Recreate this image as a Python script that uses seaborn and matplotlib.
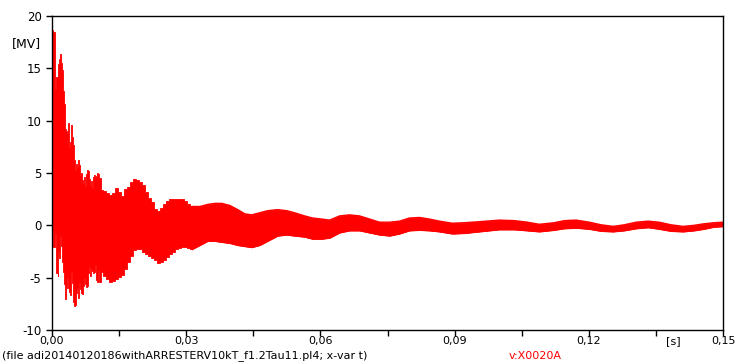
import matplotlib
matplotlib.use("Agg")
import matplotlib.pyplot as plt
from matplotlib.ticker import MultipleLocator, FuncFormatter
import numpy as np
import pandas as pd
import seaborn as sns

# ---- early transient (0 .. ~31 ms): per-sample extremes of v:X0020A [MV] ----
early_t_ms = [0.00, 0.22, 0.45, 0.67, 0.89, 1.12, 1.34, 1.56, 1.79, 2.01,
              2.23, 2.46, 2.68, 2.90, 3.13, 3.35, 3.57, 3.79, 4.02, 4.24,
              4.46, 4.69, 4.91, 5.13, 5.36, 5.58, 5.80, 6.03, 6.25, 6.47,
              6.70, 6.92, 7.14, 7.37, 7.59, 7.81, 8.04, 8.26, 8.48, 8.71,
              8.93, 9.15, 9.38, 9.60, 9.82, 10.04, 10.27, 10.49, 10.71,
              11.16, 11.83, 12.50, 13.17, 13.84, 14.51, 15.18, 15.85, 16.52,
              17.19, 17.86, 18.53, 19.20, 19.87, 20.54, 21.21, 21.88, 22.55,
              23.22, 23.89, 24.55, 25.22, 25.89, 26.56, 27.23, 27.90, 28.57,
              29.24, 29.91, 30.58, 31.25]
early_upper = [12.0, 18.7, 18.5, 15.2, 13.0, 14.2, 11.5, 15.4, 15.9, 16.4,
               15.5, 14.8, 12.8, 11.6, 9.2, 9.0, 8.8, 9.8, 7.5, 8.0,
               9.6, 8.4, 7.7, 6.2, 5.3, 5.9, 5.6, 6.2, 5.8, 4.8,
               5.0, 4.3, 4.0, 4.6, 3.8, 4.9, 5.3, 5.2, 4.4, 3.9,
               4.2, 3.6, 4.6, 4.8, 4.6, 4.7, 5.0, 4.9, 4.5,
               3.4, 3.3, 3.1, 2.9, 3.1, 3.6, 3.2, 2.8, 3.5,
               3.7, 4.1, 4.4, 4.3, 4.1, 3.9, 3.2, 2.6, 2.2,
               1.6, 1.4, 1.7, 2.0, 2.3, 2.5, 2.5, 2.5, 2.5,
               2.5, 2.3, 2.0, 1.8]
early_lower = [0.0, -0.5, -2.1, -1.5, -0.8, -4.6, -4.8, -2.5, -3.1, -1.0,
               -2.0, -3.5, -4.5, -5.6, -7.0, -6.0, -5.0, -6.0, -6.4, -6.7,
               -4.5, -5.5, -7.3, -7.7, -7.6, -6.5, -6.0, -6.9, -5.5, -6.1,
               -6.5, -6.6, -5.8, -5.0, -5.6, -5.9, -5.8, -4.6, -4.0, -4.8,
               -4.2, -4.4, -4.6, -4.5, -3.8, -5.2, -5.4, -4.3, -5.4,
               -4.5, -4.8, -5.1, -5.4, -5.3, -5.1, -4.9, -4.7, -4.2,
               -3.5, -2.9, -2.4, -2.3, -2.3, -2.5, -2.7, -2.9, -3.1,
               -3.3, -3.6, -3.5, -3.3, -3.0, -2.7, -2.5, -2.3, -2.2,
               -2.1, -2.1, -2.2, -2.3]

# ---- settled part (31 .. 150 ms): envelope of the high-frequency ripple [MV] ----
late_t_ms = [31.25, 33.04, 34.82, 36.38, 37.95, 39.73, 41.52, 43.08, 44.64,
             46.43, 48.21, 50.45, 52.46, 54.24, 56.47, 58.26, 60.27, 62.05,
             64.29, 66.52, 68.75, 70.98, 73.21, 75.45, 77.68, 79.91, 82.14,
             84.38, 86.61, 89.51, 92.19, 95.54, 100.00, 103.35, 106.25,
             108.93, 112.28, 114.51, 117.19, 120.09, 122.77, 125.45, 127.90,
             130.58, 133.26, 135.71, 138.39, 141.07, 143.53, 145.76, 148.00,
             150.00]
late_upper = [1.8, 1.8, 2.0, 2.1, 2.1, 1.9, 1.5, 1.1, 1.0,
              1.2, 1.4, 1.5, 1.4, 1.2, 0.9, 0.7, 0.6, 0.5,
              0.9, 1.0, 0.9, 0.6, 0.3, 0.3, 0.4, 0.7, 0.75,
              0.6, 0.4, 0.2, 0.25, 0.35, 0.5, 0.45, 0.3,
              0.1, 0.25, 0.45, 0.5, 0.3, 0.05, -0.1, 0.05,
              0.3, 0.4, 0.3, 0.05, -0.1, 0.0, 0.15, 0.25,
              0.3]
late_lower = [-2.3, -1.9, -1.5, -1.5, -1.6, -1.7, -1.9, -2.0, -2.1,
              -1.9, -1.5, -1.0, -0.9, -1.0, -1.1, -1.3, -1.3, -1.2,
              -0.7, -0.5, -0.5, -0.7, -0.9, -1.0, -0.8, -0.5, -0.45,
              -0.5, -0.6, -0.8, -0.75, -0.6, -0.4, -0.4, -0.5,
              -0.6, -0.45, -0.3, -0.25, -0.35, -0.55, -0.6, -0.5,
              -0.3, -0.2, -0.35, -0.55, -0.6, -0.5, -0.35, -0.15,
              -0.1]

x_major_ticks = [0.00, 0.03, 0.06, 0.09, 0.12, 0.15]
y_ticks = [-10, -5, 0, 5, 10, 15, 20]

early = pd.DataFrame({"t": np.array(early_t_ms) / 1000.0,
                      "upper": early_upper, "lower": early_lower})
late = pd.DataFrame({"t": np.array(late_t_ms) / 1000.0,
                     "upper": late_upper, "lower": late_lower})

sns.set_theme(style="white")
plt.rcParams["font.family"] = ["DejaVu Sans"]
plt.rcParams["axes.unicode_minus"] = False

RED = "#ff0000"
FS = 8
W, H = 742, 362
fig = plt.figure(figsize=(W / 100, H / 100), dpi=100)
ax = fig.add_axes([52 / W, 32 / H, 671 / W, 314 / H])

# dense oscillation rendered as a filled band between its extremes
ax.fill_between(early["t"], early["lower"], early["upper"], step="mid",
                facecolor=RED, edgecolor=RED, lw=0.6)
ax.fill_between(late["t"], late["lower"], late["upper"],
                facecolor=RED, edgecolor=RED, lw=0.6)
sns.lineplot(data=late, x="t", y="upper", ax=ax, color=RED, lw=1.0,
             estimator=None, sort=False)
sns.lineplot(data=late, x="t", y="lower", ax=ax, color=RED, lw=1.0,
             estimator=None, sort=False)

ax.set_xlim(0, 0.15)
ax.set_ylim(-10, 20)
ax.set_xlabel("")
ax.set_ylabel("")

ax.set_xticks(x_major_ticks)
ax.xaxis.set_minor_locator(MultipleLocator(0.015))
ax.xaxis.set_major_formatter(FuncFormatter(lambda v, _: f"{v:.2f}".replace(".", ",")))
ax.set_yticks(y_ticks)
ax.yaxis.set_major_formatter(FuncFormatter(lambda v, _: f"{v:.0f}"))

ax.tick_params(axis="both", which="both", direction="out", length=4.5,
               width=1, color="black", labelcolor="black", labelsize=FS + 0.5)
ax.tick_params(axis="x", which="both", length=4, pad=0.3, labelsize=FS,
               bottom=True, top=False)
ax.tick_params(axis="y", pad=3, left=True, right=False)
for s in ax.spines.values():
    s.set_color("black")
    s.set_linewidth(1.0)
    s.set_visible(True)

fig.text(12 / W, 1 - 44 / H, "[MV]", fontsize=FS + 1, color="black",
         ha="left", va="center")
fig.text(673 / W, 1 - 341 / H, "[s]", fontsize=FS, color="black",
         ha="center", va="center")
fig.text(2 / W, 1.3 / H,
         "(file adi20140120186withARRESTERV10kT_f1.2Tau11.pl4; x-var t)",
         fontsize=FS, color="black", ha="left", va="bottom")
fig.text(509 / W, 1.3 / H, "v:X0020A", fontsize=FS, color=RED,
         ha="left", va="bottom")

fig.savefig("out.png", dpi=100, facecolor="white")
